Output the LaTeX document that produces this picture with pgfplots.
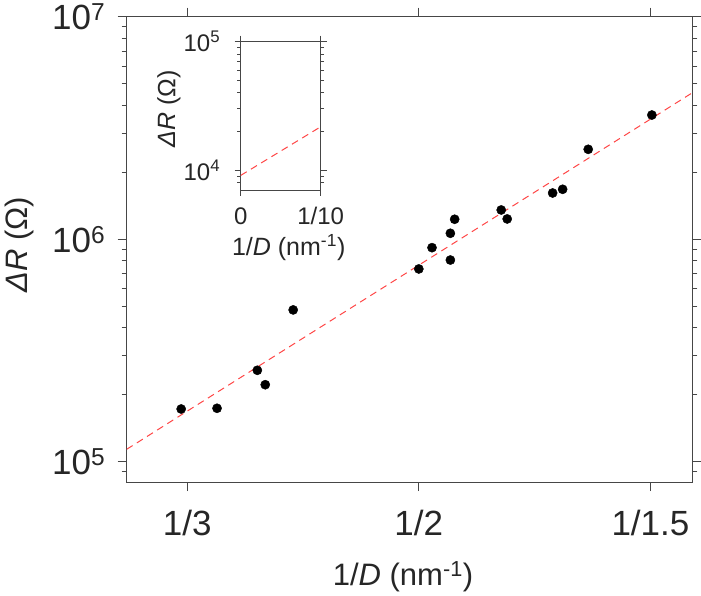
\documentclass[border=0pt]{standalone}
\usepackage{fontspec}
\setmainfont{Liberation Sans}
\usepackage{pgfplots}
\pgfplotsset{compat=1.18}
\definecolor{fitred}{RGB}{255,70,70}
\definecolor{axgray}{RGB}{70,70,70}
\begin{document}
\begin{tikzpicture}
\begin{axis}[
  name=main,
  at={(0,0)}, anchor=south west,
  scale only axis, width=565.6pt, height=465.6pt,
  xmin=0.2898, xmax=0.6968,
  ymode=log, ymin=8.08e4, ymax=1e7,
  xtick={0.333333,0.5,0.666667},
  xticklabels={1/3,1/2,1/1.5},
  ytick={1e5,1e6,1e7},
  yticklabels={10\textsuperscript{5},10\textsuperscript{6},10\textsuperscript{7}},
  minor ytick={9e4,2e5,3e5,4e5,5e5,6e5,7e5,8e5,9e5,2e6,3e6,4e6,5e6,6e6,7e6,8e6,9e6},
  minor xtick={},
  tick align=outside,
  major tick length=9pt, minor tick length=5pt,
  axis line style={axgray, line width=1pt},
  every tick/.style={axgray, line width=0.9pt},
  tick label style={font=\fontsize{35}{37}\selectfont, text=black!85},
  xticklabel style={yshift=-15pt},
  yticklabel style={xshift=-9pt},
  label style={font=\fontsize{31}{33}\selectfont, text=black!85},
  xlabel={1/\textit{D} (nm\textsuperscript{-1})},
  ylabel={\textit{ΔR} (Ω)},
  xlabel style={at={(axis description cs:0.4885,-0.203)}, anchor=center},
  ylabel style={at={(axis description cs:-0.1887,0.51)}, anchor=center, rotate=0},
  clip=true,
]
\addplot[fitred, line width=1pt, dash pattern=on 7pt off 5pt] coordinates {(0.2898,1.137e5) (0.6968,4.55e6)};
\addplot[only marks, mark=*, mark size=4.6pt, black] coordinates {
(0.3290,1.725e5)
(0.3548,1.738e5)
(0.3838,2.575e5)
(0.3895,2.218e5)
(0.4096,4.81e5)
(0.5000,7.35e5)
(0.5095,9.16e5)
(0.5227,8.06e5)
(0.5227,1.063e6)
(0.5258,1.229e6)
(0.5593,1.353e6)
(0.5636,1.233e6)
(0.5963,1.613e6)
(0.6035,1.676e6)
(0.6219,2.535e6)
(0.6677,3.615e6)
};
\end{axis}
\begin{axis}[
  at={(114pt,292.3pt)}, anchor=south west,
  scale only axis, width=80pt, height=148.3pt,
  xmin=0, xmax=0.1,
  ymode=log, ymin=7e3, ymax=1e5,
  xtick={0,0.1}, xticklabels={0,1/10},
  ytick={1e4,1e5},
  yticklabels={10\textsuperscript{4},10\textsuperscript{5}},
  minor ytick={8e3,9e3,2e4,3e4,4e4,5e4,6e4,7e4,8e4,9e4},
  minor xtick={},
  tick align=outside,
  major tick length=6pt, minor tick length=3.5pt,
  axis line style={axgray, line width=0.9pt},
  every tick/.style={axgray, line width=0.8pt},
  tick label style={font=\fontsize{24}{26}\selectfont, text=black!85},
  xticklabel style={yshift=-8pt},
  yticklabel style={xshift=-11pt},
  label style={font=\fontsize{25}{27}\selectfont, text=black!85},
  xlabel={1/\textit{D} (nm\textsuperscript{-1})},
  ylabel={\textit{ΔR} (Ω)},
  xlabel style={at={(axis description cs:0.6,-0.39)}, anchor=center},
  ylabel style={at={(axis description cs:-0.896,0.546)}, anchor=center, rotate=0},
  axis background/.style={fill=white},
]
\addplot[fitred, line width=1pt, dash pattern=on 7pt off 5pt] coordinates {(0,9.09e3) (0.1,2.175e4)};
\end{axis}
\pgfresetboundingbox
\path (-126.7pt,-112.7pt) rectangle (574.3pt,482.3pt);
\end{tikzpicture}
\end{document}
